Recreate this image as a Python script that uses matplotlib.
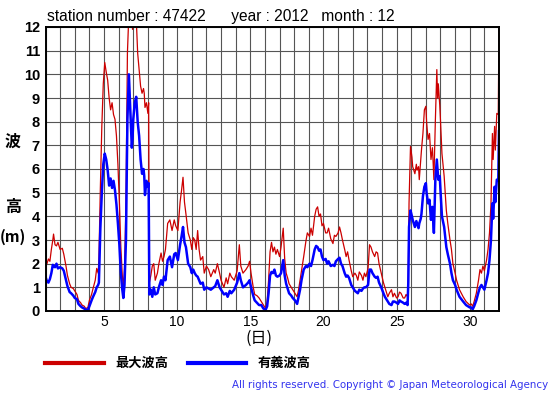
import numpy as np
import matplotlib.pyplot as plt
from matplotlib.lines import Line2D

# hourly-ish readings, day of month (1.0 = Dec 1 00:00)
day = [1.0, 1.1, 1.2, 1.3, 1.4, 1.5, 1.55, 1.65, 1.75, 1.85, 2.0, 2.15, 2.25, 2.4, 2.5, 2.65, 2.75, 2.9,
       3.0, 3.15, 3.25, 3.4, 3.5, 3.65, 3.75, 3.9, 4.0, 4.15, 4.25, 4.4, 4.5, 4.6, 4.65, 4.75, 4.85, 4.95,
       5.05, 5.15, 5.25, 5.35, 5.45, 5.55, 5.65, 5.75, 5.85, 5.95, 6.05, 6.15, 6.25, 6.32, 6.4, 6.5,
       6.6, 6.7, 6.8, 6.9, 6.95, 7.0, 7.1, 7.2, 7.3, 7.4, 7.5, 7.6, 7.7, 7.75, 7.8, 7.9, 8.0, 8.05,
       8.1, 8.2, 8.3, 8.4, 8.5, 8.65, 8.75, 8.9, 9.0, 9.1, 9.2, 9.35, 9.5, 9.65, 9.8, 9.9, 10.05,
       10.2, 10.3, 10.4, 10.5, 10.6, 10.75, 10.9, 11.0, 11.1, 11.2, 11.3, 11.4, 11.5, 11.6, 11.75,
       11.85, 12.0, 12.15, 12.3, 12.5, 12.6, 12.75, 12.9, 13.0, 13.2, 13.35, 13.45, 13.6, 13.7,
       13.9, 14.1, 14.25, 14.35, 14.5, 14.7, 14.85, 14.95, 15.05, 15.2, 15.3, 15.45, 15.6, 15.75,
       15.9, 16.05, 16.15, 16.25, 16.35, 16.45, 16.55, 16.65, 16.75, 16.85, 17.0, 17.1, 17.25,
       17.35, 17.45, 17.55, 17.65, 17.8, 17.9, 18.05, 18.2, 18.3, 18.4, 18.5, 18.65, 18.8, 18.9,
       19.05, 19.15, 19.25, 19.4, 19.5, 19.6, 19.7, 19.8, 19.9, 20.0, 20.15, 20.25, 20.35, 20.5,
       20.65, 20.75, 20.85, 21.0, 21.1, 21.2, 21.3, 21.45, 21.55, 21.65, 21.75, 21.9, 22.0, 22.15,
       22.25, 22.35, 22.45, 22.6, 22.7, 22.8, 22.9, 23.05, 23.15, 23.25, 23.35, 23.5, 23.6, 23.7,
       23.8, 23.95, 24.1, 24.2, 24.3, 24.4, 24.5, 24.65, 24.75, 24.85, 25.0, 25.1, 25.2, 25.3,
       25.45, 25.55, 25.65, 25.75, 25.8, 25.85, 25.95, 26.05, 26.1, 26.25, 26.35, 26.4, 26.5,
       26.55, 26.65, 26.7, 26.8, 26.9, 27.0, 27.05, 27.15, 27.25, 27.35, 27.45, 27.55, 27.65,
       27.75, 27.8, 27.85, 27.95, 28.0, 28.1, 28.25, 28.4, 28.5, 28.65, 28.75, 28.85, 29.0, 29.1,
       29.3, 29.55, 29.75, 30.0, 30.1, 30.2, 30.3, 30.45, 30.6, 30.7, 30.8, 30.9, 31.0, 31.15,
       31.25, 31.35, 31.45, 31.55, 31.6, 31.7, 31.75, 31.85, 31.95, 32.0]

hmax = [2.25, 2.0, 2.2, 2.1, 2.6, 3.0, 3.25, 2.8, 2.75, 2.9, 2.6, 2.65, 2.4, 1.9, 1.5, 1.15, 1.0, 0.95,
        0.85, 0.7, 0.45, 0.35, 0.25, 0.2, 0.1, 0.15, 0.45, 0.7, 0.95, 1.3, 1.8, 1.6, 2.15, 5.2, 7.8, 9.6,
        10.5, 10.1, 9.75, 9.0, 8.5, 8.8, 8.3, 8.1, 7.4, 6.2, 4.6, 2.7, 1.5, 1.0, 1.8, 4.5,
        10.9, 12.6, 13.0, 12.5, 11.9, 12.6, 13.0, 12.4, 10.9, 10.2, 9.5, 9.2, 9.4, 9.2, 8.6, 8.8, 8.35, 8.8,
        1.2, 1.5, 1.9, 2.0, 1.3, 1.6, 2.0, 2.45, 2.1, 2.3, 2.6, 3.7, 3.85, 3.4, 3.85, 3.6, 3.4,
        4.6, 5.1, 5.65, 4.6, 4.1, 3.3, 3.0, 2.6, 3.1, 3.0, 2.6, 3.4, 2.6, 2.15, 2.3,
        1.6, 1.9, 1.75, 1.45, 1.75, 1.6, 2.0, 1.6, 1.3, 1.0, 1.4, 1.15, 1.6, 1.45,
        1.3, 1.7, 2.8, 1.9, 1.6, 1.75, 1.9, 2.1, 1.6, 1.0, 0.7, 0.65, 0.55, 0.4,
        0.25, 0.1, 0.4, 1.3, 2.5, 2.9, 2.5, 2.7, 2.4, 2.6, 2.3, 2.7, 3.5,
        2.2, 1.6, 1.4, 1.15, 1.0, 0.9, 0.75, 0.6, 0.9, 1.3, 1.7, 2.3, 2.95, 3.3,
        3.15, 3.5, 3.2, 4.0, 4.3, 4.4, 4.0, 4.1, 3.6, 3.7, 3.3, 3.3, 3.5, 3.05,
        2.85, 3.2, 3.15, 3.3, 3.55, 3.3, 3.0, 2.6, 2.3, 2.5, 2.15, 1.7, 1.45, 1.6,
        1.5, 1.3, 1.65, 1.5, 1.3, 1.6, 1.45, 1.8, 2.8, 2.7, 2.5, 2.3, 2.5, 2.45,
        2.0, 1.6, 1.2, 1.0, 0.8, 0.6, 0.75, 0.9, 0.6, 0.75, 0.55, 0.6, 0.8, 0.75,
        0.55, 0.55, 0.7, 0.6, 1.5, 4.55, 6.95, 6.5, 6.1, 5.8, 6.2, 5.95, 6.1,
        5.55, 6.4, 6.8, 7.5, 8.5, 8.65, 8.0, 7.25, 7.5, 6.4, 6.9, 5.55, 8.05,
        10.2, 9.0, 9.6, 8.7, 8.05, 6.65, 5.7, 4.25, 3.7, 3.0, 2.6, 2.0, 1.6, 1.3,
        0.9, 0.6, 0.4, 0.25, 0.3, 0.2, 0.4, 0.75, 1.3, 1.75, 1.6, 1.9, 1.7, 2.15,
        2.6, 3.3, 4.5, 7.5, 6.4, 7.8, 6.8, 8.35, 8.3, 12.2]

hsig = [1.45, 1.25, 1.2, 1.35, 1.6, 1.95, 1.9, 1.85, 2.0, 1.8, 1.85, 1.8, 1.7, 1.3, 1.05, 0.8, 0.75, 0.65,
        0.55, 0.5, 0.3, 0.2, 0.15, 0.1, 0.05, 0.05, 0.2, 0.45, 0.6, 0.8, 1.0, 1.1, 1.2, 3.5, 5.0, 6.2,
        6.65, 6.4, 5.95, 5.3, 5.6, 5.2, 5.5, 5.1, 4.5, 3.7, 2.8, 1.6, 0.9, 0.55, 1.1, 3.0,
        8.1, 10.0, 8.5, 6.9, 7.3, 8.1, 8.8, 9.05, 8.0, 7.4, 6.4, 5.8, 6.0, 5.7, 4.9, 5.5, 5.25, 5.4,
        0.7, 0.9, 0.6, 1.0, 0.7, 0.75, 1.0, 1.3, 1.1, 1.45, 1.3, 2.15, 2.3, 1.85, 2.4, 2.45, 2.15,
        2.8, 3.15, 3.55, 2.9, 2.7, 2.0, 1.85, 1.6, 1.75, 1.6, 1.5, 1.45, 1.3, 1.15, 1.2,
        0.9, 1.0, 0.95, 0.9, 1.0, 1.05, 1.3, 1.0, 0.9, 0.7, 0.75, 0.6, 0.85, 0.75,
        0.9, 1.2, 1.6, 1.3, 1.0, 1.1, 1.2, 1.3, 1.0, 0.65, 0.45, 0.35, 0.25, 0.25,
        0.1, 0.05, 0.2, 0.75, 1.5, 1.65, 1.6, 1.75, 1.5, 1.45, 1.5, 1.6, 2.15,
        1.5, 1.15, 0.95, 0.75, 0.65, 0.55, 0.45, 0.3, 0.6, 0.9, 1.3, 1.75, 1.9, 1.85,
        2.0, 1.9, 2.15, 2.6, 2.75, 2.7, 2.55, 2.6, 2.3, 2.15, 2.2, 2.0, 2.1, 1.9,
        1.95, 1.9, 2.1, 2.2, 2.25, 2.0, 1.9, 1.6, 1.45, 1.5, 1.4, 1.1, 1.0, 0.85,
        0.8, 0.75, 0.9, 0.85, 0.95, 1.0, 1.0, 1.1, 1.75, 1.75, 1.6, 1.45, 1.4, 1.45,
        1.2, 1.0, 0.75, 0.6, 0.5, 0.4, 0.3, 0.25, 0.4, 0.4, 0.35, 0.3, 0.45, 0.4,
        0.35, 0.3, 0.35, 0.25, 1.2, 3.55, 4.25, 4.0, 3.85, 3.55, 3.8, 3.7, 3.5,
        3.7, 3.9, 4.1, 4.85, 5.25, 5.4, 5.0, 4.55, 4.7, 3.85, 4.4, 3.3, 5.55,
        6.4, 6.0, 5.55, 5.7, 5.1, 4.0, 3.55, 2.7, 2.4, 2.0, 1.6, 1.3, 1.1, 0.9,
        0.6, 0.4, 0.25, 0.15, 0.15, 0.07, 0.2, 0.45, 0.8, 1.0, 1.1, 1.0, 0.9, 1.3,
        1.6, 2.15, 3.0, 4.55, 3.9, 5.25, 4.6, 5.55, 5.5, 7.6]

yticks = list(range(0, 13))
xlabels = {5: '5', 10: '10', 15: '15', 20: '20', 25: '25', 30: '30'}

W, H = 555, 395
fig = plt.figure(figsize=(W / 100, H / 100), dpi=100)
ax = fig.add_axes([45.5 / W, (H - 311) / H, (499 - 45.5) / W, (311 - 27) / H])

ax.plot(day, hmax, color='#cc0000', lw=0.9)
ax.plot(day, hsig, color='#0000ff', lw=1.8)

ax.set_xlim(1, 32)
ax.set_ylim(0, 12)
days = list(range(1, 33))
ax.set_xticks(days)
ax.set_xticklabels([xlabels.get(d, '') for d in days], fontsize=10,
                   family='Liberation Sans')
ax.set_yticks(yticks)
ax.set_yticklabels([str(v) for v in yticks], fontsize=10.5, fontweight='bold',
                   family='Liberation Sans')
ax.tick_params(length=0, pad=4)
ax.tick_params(axis='x', pad=3)
ax.grid(True, color='#555555', lw=0.8)
ax.set_axisbelow(True)
for s in ax.spines.values():
    s.set_linewidth(1.4)
    s.set_color('black')

cjk = ['Noto Sans CJK JP', 'DejaVu Sans']

fig.text(47 / W, 1 - 17 / H, 'station number : 47422      year : 2012   month : 12',
         fontsize=11.2, family='Liberation Sans', va='center', ha='left')

# vertical y label pieces
fig.text(13 / W, 1 - 142 / H, '波', fontsize=11.5, fontweight='bold', family=cjk,
         ha='center', va='center')
fig.text(13 / W, 1 - 207 / H, '高', fontsize=11.5, fontweight='bold', family=cjk,
         ha='center', va='center')
fig.text(13 / W, 1 - 237 / H, '(m)', fontsize=11, fontweight='bold', family=cjk,
         ha='center', va='center')

fig.text(259 / W, 1 - 338 / H, '(日)', fontsize=11.5, family=cjk,
         ha='center', va='center')

# legend
fig.add_artist(Line2D([45 / W, 104 / W], [1 - 363 / H] * 2, color='#cc0000', lw=3))
fig.text(115 / W, 1 - 363 / H, '最大波高', fontsize=9.5, fontweight='bold', family=cjk,
         ha='left', va='center')
fig.add_artist(Line2D([188 / W, 246 / W], [1 - 363 / H] * 2, color='#0000ff', lw=3))
fig.text(258 / W, 1 - 363 / H, '有義波高', fontsize=9.5, fontweight='bold', family=cjk,
         ha='left', va='center')

fig.text(548 / W, 1 - 385 / H, 'All rights reserved. Copyright © Japan Meteorological Agency',
         fontsize=7.4, color='#3333ee', family='DejaVu Sans', ha='right', va='center')

fig.savefig('out.png', dpi=100)
